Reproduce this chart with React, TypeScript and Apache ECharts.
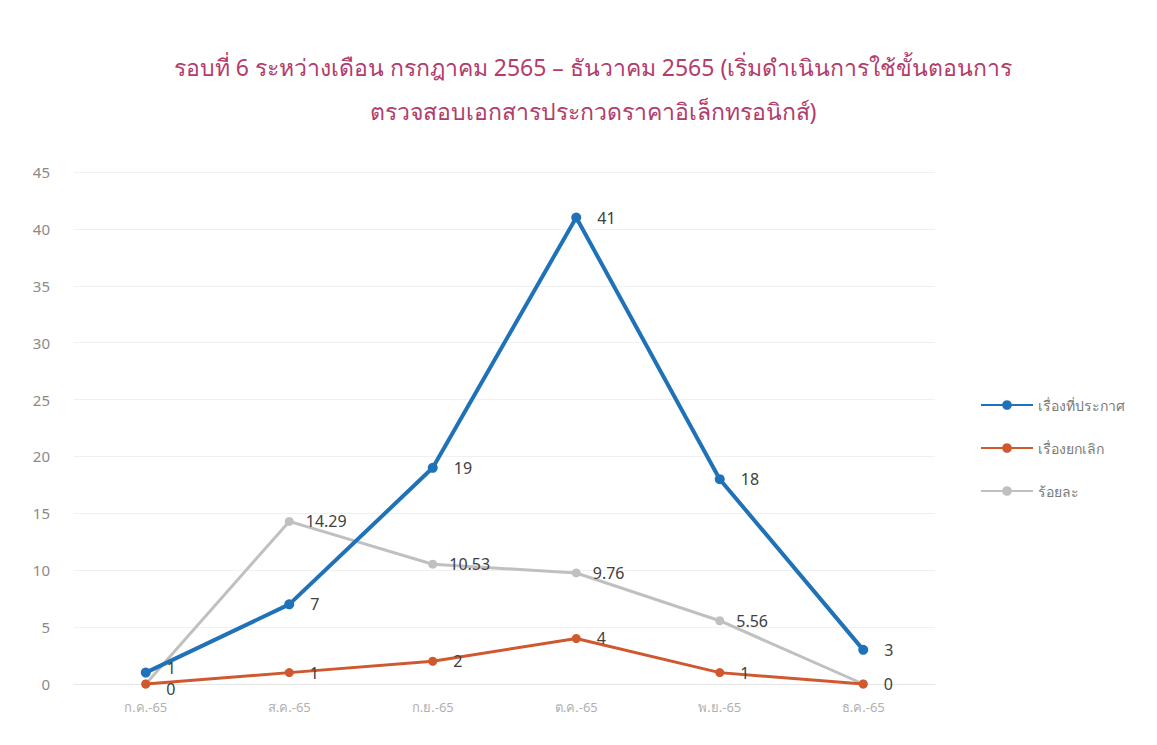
import React, { useEffect, useRef } from "react";
import * as echarts from "echarts";

const categories = ["ก.ค.-65", "ส.ค.-65", "ก.ย.-65", "ต.ค.-65", "พ.ย.-65", "ธ.ค.-65"];
const announced = [1, 7, 19, 41, 18, 3];
const cancelled = [0, 1, 2, 4, 1, 0];
const percent = [0, 14.29, 10.53, 9.76, 5.56, 0];
const seriesNames = ["เรื่องที่ประกาศ", "เรื่องยกเลิก", "ร้อยละ"];
const titleLines = [
  "รอบที่ 6 ระหว่างเดือน กรกฎาคม 2565 – ธันวาคม 2565 (เริ่มดำเนินการใช้ขั้นตอนการ",
  "ตรวจสอบเอกสารประกวดราคาอิเล็กทรอนิกส์)",
];

export default function App() {
  const ref = useRef<HTMLDivElement>(null);
  useEffect(() => {
    const chart = echarts.init(ref.current!, null, { renderer: "svg" });
    const font = "'Noto Sans', 'DejaVu Sans', sans-serif";
    const label = (dist: number) => ({
      show: true,
      position: "right" as const,
      distance: dist,
      color: "#404040",
      fontSize: 16,
      fontFamily: font,
    });
    // gray zero labels coincide with the orange zero labels; show one of each
    const percentData = percent.map((v, i) =>
      i === 0 || i === percent.length - 1 ? { value: v, label: { show: false } } : v
    );
    const cancelledData = cancelled.map((v, i) =>
      i === 0 ? { value: v, label: { offset: [0, 5] } } : v
    );
    const announcedData = announced.map((v, i) =>
      i === 0 ? { value: v, label: { offset: [0, -5] } } : v
    );
    chart.setOption({
      animation: false,
      backgroundColor: "#ffffff",
      title: {
        text: titleLines.join("\n"),
        left: 588,
        textAlign: "center",
        top: 40,
        textStyle: {
          color: "#b23c6a",
          fontSize: 23,
          fontWeight: "normal",
          lineHeight: 44,
          fontFamily: font,
        },
      },
      legend: {
        orient: "vertical",
        left: 975,
        top: 393,
        itemWidth: 52,
        itemHeight: 12,
        itemGap: 29,
        textStyle: { color: "#7a7a7a", fontSize: 14, fontFamily: font },
        data: seriesNames,
      },
      grid: { left: 74, right: 222, top: 172, bottom: 61, containLabel: false },
      xAxis: {
        type: "category",
        data: categories,
        boundaryGap: true,
        axisLine: { show: true, lineStyle: { color: "#e6e6e6" } },
        axisTick: { show: false },
        axisLabel: { color: "#b0b0b0", fontSize: 13, margin: 16, fontFamily: font },
      },
      yAxis: {
        type: "value",
        min: 0,
        max: 45,
        interval: 5,
        axisLine: { show: false },
        axisTick: { show: false },
        axisLabel: { color: "#8a8a8a", fontSize: 15, margin: 24, fontFamily: font },
        splitLine: { lineStyle: { color: "#f0f0f0" } },
      },
      series: [
        {
          name: seriesNames[2],
          type: "line",
          data: percentData,
          z: 2,
          symbol: "circle",
          symbolSize: 9,
          lineStyle: { color: "#c0c0c0", width: 3 },
          itemStyle: { color: "#c0c0c0" },
          label: label(12),
        },
        {
          name: seriesNames[1],
          type: "line",
          data: cancelledData,
          z: 3,
          symbol: "circle",
          symbolSize: 9,
          lineStyle: { color: "#d0582e", width: 3 },
          itemStyle: { color: "#d0582e" },
          label: label(16),
        },
        {
          name: seriesNames[0],
          type: "line",
          data: announcedData,
          z: 4,
          symbol: "circle",
          symbolSize: 10,
          lineStyle: { color: "#1f72b8", width: 4 },
          itemStyle: { color: "#1f72b8" },
          label: label(16),
        },
      ],
    });
    return () => chart.dispose();
  }, []);
  return (
    <div
      ref={ref}
      style={{ position: "fixed", left: 0, top: 0, width: 1157, height: 745, background: "#fff" }}
    />
  );
}
